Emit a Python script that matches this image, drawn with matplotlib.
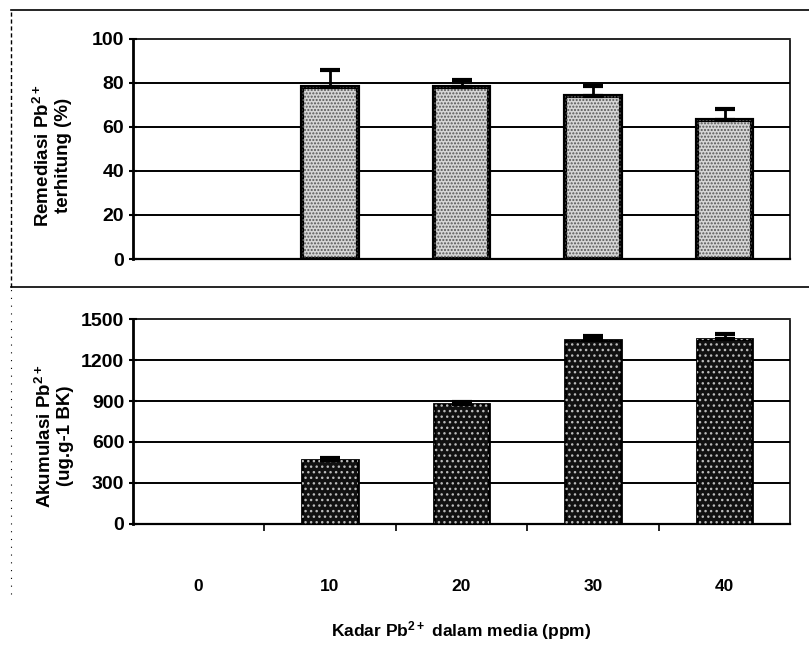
import matplotlib
matplotlib.use("Agg")
import matplotlib.pyplot as plt
from matplotlib.lines import Line2D

plt.rcParams['font.family'] = ['Liberation Sans', 'DejaVu Sans']
plt.rcParams['font.weight'] = 'bold'
plt.rcParams['mathtext.default'] = 'regular'
plt.rcParams['hatch.linewidth'] = 1.0

categories = ['0', '10', '20', '30', '40']
remediasi = [0, 78, 78, 74, 63]
remediasi_err = [0, 8, 3.5, 4.5, 5]
akumulasi = [0, 470, 880, 1350, 1355]
akumulasi_err = [0, 10, 15, 25, 35]

fig = plt.figure(figsize=(8.09, 6.46), dpi=100)
fig.patch.set_facecolor('white')

ax1 = fig.add_axes([0.164, 0.599, 0.813, 0.341])
ax2 = fig.add_axes([0.164, 0.189, 0.813, 0.317])

x = list(range(len(categories)))
width = 0.42

def style(ax, ymax, step):
    ax.set_xlim(-0.5, len(categories) - 0.5)
    ax.set_ylim(0, ymax)
    ax.set_yticks(list(range(0, ymax + 1, step)))
    for t in range(step, ymax, step):
        ax.axhline(t, color='black', lw=1.4, zorder=1)
    ax.spines['left'].set_linewidth(2)
    ax.spines['bottom'].set_linewidth(1.6)
    ax.spines['top'].set_linewidth(1.2)
    ax.spines['top'].set_linestyle((0, (2, 1)))
    ax.spines['right'].set_linewidth(1.2)
    ax.spines['right'].set_linestyle((0, (2, 1)))
    ax.tick_params(axis='y', labelsize=14, length=6, width=1.5, direction='inout', pad=3)
    for lab in ax.get_yticklabels():
        lab.set_fontweight('bold')

def nonzero(vals, errs):
    idx = [i for i, v in enumerate(vals) if v != 0]
    return idx, [vals[i] for i in idx], [errs[i] for i in idx]

# Top panel
style(ax1, 100, 20)
xi, v, e = nonzero(remediasi, remediasi_err)
ax1.bar(xi, v, width=width, color='#d6d6d6', edgecolor='black', linewidth=3, zorder=3)
ax1.bar(xi, v, width=width, color='none', edgecolor='#555555', hatch='.....', linewidth=0, zorder=4)
ax1.errorbar(xi, v, yerr=[[0]*len(xi), e], fmt='none', ecolor='black',
             elinewidth=2, capsize=7, capthick=3, zorder=5)
ax1.set_xticks([])
ax1.set_ylabel('Remediasi Pb$^{2+}$\nterhitung (%)', fontsize=13.5, fontweight='bold')
ax1.yaxis.set_label_coords(-0.092, 0.47)

# Bottom panel
style(ax2, 1500, 300)
xi, v, e = nonzero(akumulasi, akumulasi_err)
ax2.bar(xi, v, width=width, color='#111111', edgecolor='black', linewidth=2, zorder=3)
ax2.bar(xi, v, width=width, color='none', edgecolor='#bbbbbb', hatch='...', linewidth=0, zorder=4)
ax2.errorbar(xi, v, yerr=[[0]*len(xi), e], fmt='none', ecolor='black',
             elinewidth=2, capsize=7, capthick=3, zorder=5)
ax2.set_xticks(x)
ax2.set_xticklabels(categories, fontsize=12.5, fontweight='bold')
ax2.set_xticks([i + 0.5 for i in x[:-1]], minor=True)
ax2.tick_params(axis='x', which='major', length=0, pad=40)
ax2.tick_params(axis='x', which='minor', length=5, width=1.2, direction='out')
ax2.set_ylabel('Akumulasi Pb$^{2+}$\n(ug.g-1 BK)', fontsize=13.5, fontweight='bold')
ax2.yaxis.set_label_coords(-0.089, 0.43)
ax2.set_xlabel('Kadar Pb$^{2+}$ dalam media (ppm)', fontsize=12.5, fontweight='bold', labelpad=18)

# Outer frames of the two chart areas
fig.add_artist(Line2D([0.013, 1.0], [0.985, 0.985], color='black', lw=1.2))
fig.add_artist(Line2D([0.013, 1.0], [0.556, 0.556], color='black', lw=1.2))
fig.add_artist(Line2D([0.013, 0.013], [0.556, 0.985], color='black', lw=1.0, ls=(0, (3, 2))))
fig.add_artist(Line2D([0.013, 0.013], [0.08, 0.556], color='black', lw=0.8, ls=(0, (1, 6))))

fig.savefig('out.png', dpi=100, facecolor='white')
